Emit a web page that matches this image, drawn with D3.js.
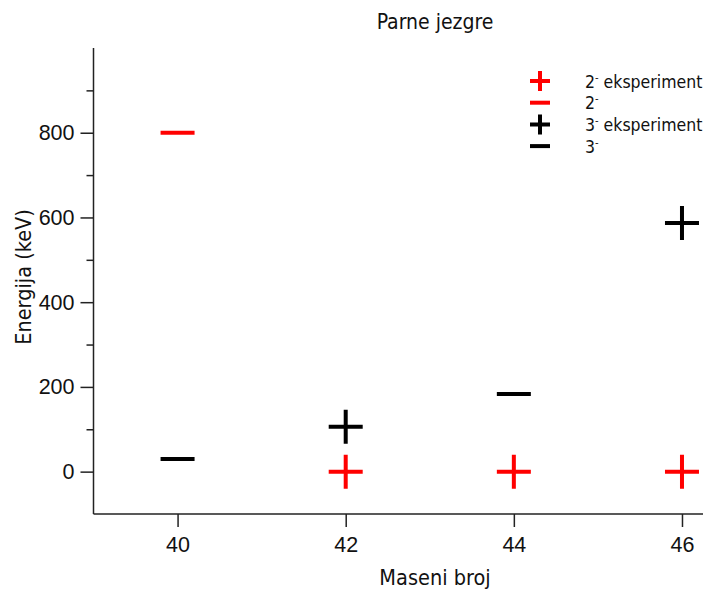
<!DOCTYPE html>
<html>
<head>
<meta charset="utf-8">
<script src="https://cdn.jsdelivr.net/npm/d3@7"></script>
<style>
  html, body { margin: 0; padding: 0; background: #fff; }
  svg { display: block; font-family: "DejaVu Sans Condensed", "DejaVu Sans", sans-serif; }
  .axis path, .axis line { stroke: #222; stroke-width: 1.5; }
  .axis text { font-size: 21.5px; fill: #111; }
</style>
</head>
<body>
<svg id="chart" width="703" height="590"></svg>
<script>
"use strict";

// ── Data ──────────────────────────────────────────────────────────────────────
const massNumbers = [40, 42, 44, 46];
const exp2minus   = [null, 0, 0, 0];        // 2- eksperiment (red +)
const calc2minus  = [800, null, null, null]; // 2- (red –)
const exp3minus   = [null, 106, null, 587];  // 3- eksperiment (black +)
const calc3minus  = [30, null, 183, null];   // 3- (black –)

const xTicks      = [40, 42, 44, 46];
const yTicks      = [0, 200, 400, 600, 800];
const yMinorTicks = [100, 300, 500, 700, 900];

const series = [
  { label: "2", suffix: " eksperiment", values: exp2minus,  color: "#ff0000", mark: "cross" },
  { label: "2", suffix: "",             values: calc2minus, color: "#ff0000", mark: "dash"  },
  { label: "3", suffix: " eksperiment", values: exp3minus,  color: "#000000", mark: "cross" },
  { label: "3", suffix: "",             values: calc3minus, color: "#000000", mark: "dash"  },
];

// ── Layout ────────────────────────────────────────────────────────────────────
const svg = d3.select("#chart");
const M = { left: 93.5, right: 703, top: 48, bottom: 514 };

const x = d3.scaleLinear().domain([39, 46.25]).range([M.left, M.right]);
const y = d3.scaleLinear().domain([-100, 1000]).range([M.bottom, M.top]);

// ── Axes ──────────────────────────────────────────────────────────────────────
svg.append("g").attr("class", "axis")
  .attr("transform", `translate(0,${M.bottom})`)
  .call(d3.axisBottom(x).tickValues(xTicks).tickSize(13).tickSizeOuter(0).tickPadding(10))
  .call((g) => g.select(".domain").attr("d", `M${M.left},0H${M.right}`));

svg.append("g").attr("class", "axis")
  .attr("transform", `translate(${M.left},0)`)
  .call(d3.axisLeft(y).tickValues(yTicks).tickSize(13).tickSizeOuter(0).tickPadding(6))
  .call((g) => g.select(".domain").attr("d", `M0,${M.top}V${M.bottom}`));

svg.append("g").attr("class", "axis")
  .attr("transform", `translate(${M.left},0)`)
  .call(d3.axisLeft(y).tickValues(yMinorTicks).tickSize(7).tickFormat(""))
  .call((g) => g.select(".domain").remove());

// ── Titles ────────────────────────────────────────────────────────────────────
svg.append("text")
  .attr("x", 435).attr("y", 29)
  .attr("text-anchor", "middle")
  .style("font-size", "21px").attr("fill", "#111")
  .text("Parne jezgre");

svg.append("text")
  .attr("x", 435).attr("y", 585)
  .attr("text-anchor", "middle")
  .style("font-size", "21.5px").attr("fill", "#111")
  .text("Maseni broj");

svg.append("text")
  .attr("transform", "translate(31,277) rotate(-90)")
  .attr("text-anchor", "middle")
  .style("font-size", "21.5px").attr("fill", "#111")
  .text("Energija (keV)");

// ── Marks ─────────────────────────────────────────────────────────────────────
function markPath(mark, cx, cy, h) {
  return mark === "cross"
    ? `M${cx - h},${cy}H${cx + h}M${cx},${cy - h}V${cy + h}`
    : `M${cx - h},${cy}H${cx + h}`;
}

const marksG = svg.append("g");
series.forEach((s) => {
  const pts = massNumbers
    .map((m, i) => ({ m, v: s.values[i] }))
    .filter((d) => d.v !== null);
  marksG.selectAll(null).data(pts).enter().append("path")
    .attr("d", (d) => markPath(s.mark, x(d.m), y(d.v), 17))
    .attr("stroke", s.color)
    .attr("stroke-width", 4)
    .attr("fill", "none");
});

// ── Legend ────────────────────────────────────────────────────────────────────
const legend = svg.append("g").attr("transform", "translate(540,81)");
series.forEach((s, i) => {
  const row = legend.append("g").attr("transform", `translate(0,${i * 21.7})`);
  row.append("path")
    .attr("d", markPath(s.mark, 0, 0, 10))
    .attr("stroke", s.color)
    .attr("stroke-width", 4)
    .attr("fill", "none");
  const t = row.append("text")
    .attr("x", 45).attr("y", 6.5)
    .style("font-size", "17.5px").attr("fill", "#111");
  t.append("tspan").text(s.label);
  t.append("tspan").attr("dy", -7).style("font-size", "11px").text("-");
  if (s.suffix) t.append("tspan").attr("dy", 7).text(s.suffix);
});
</script>
</body>
</html>
